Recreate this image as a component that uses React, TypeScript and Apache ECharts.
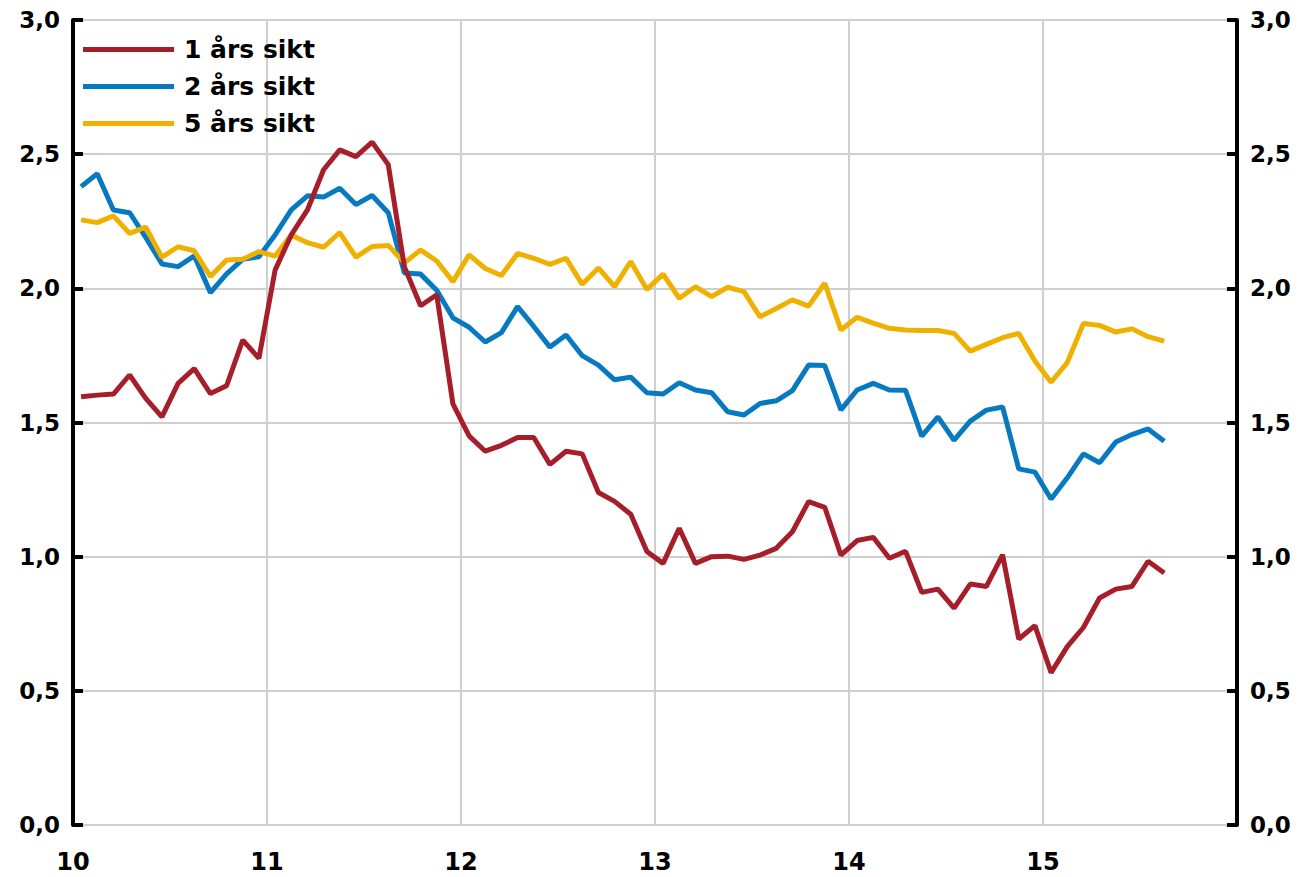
import React, { useEffect, useRef } from "react";
import * as echarts from "echarts";

// Monthly observations, Jan 2010 .. Aug 2015
const startYear = 10;
const seriesNames = ["1 års sikt", "2 års sikt", "5 års sikt"];

const oneYear = [
  1.596, 1.602, 1.606, 1.677, 1.59, 1.521, 1.646, 1.701, 1.608, 1.637, 1.807, 1.739,
  2.068, 2.199, 2.292, 2.442, 2.516, 2.491, 2.545, 2.461, 2.08, 1.935, 1.976, 1.569,
  1.45, 1.393, 1.415, 1.444, 1.444, 1.344, 1.393, 1.383, 1.239, 1.206, 1.158, 1.019,
  0.975, 1.106, 0.975, 1.0, 1.002, 0.99, 1.006, 1.031, 1.093, 1.205, 1.184, 1.006,
  1.06, 1.072, 0.994, 1.02, 0.867, 0.879, 0.808, 0.898, 0.889, 1.007, 0.693, 0.743,
  0.568, 0.665, 0.736, 0.846, 0.879, 0.889, 0.983, 0.939,
];

const twoYear = [
  2.379, 2.427, 2.292, 2.282, 2.19, 2.091, 2.081, 2.121, 1.984, 2.054, 2.108, 2.118,
  2.199, 2.292, 2.345, 2.34, 2.373, 2.312, 2.346, 2.282, 2.057, 2.053, 1.993, 1.89,
  1.855, 1.8, 1.835, 1.932, 1.858, 1.781, 1.826, 1.749, 1.714, 1.659, 1.669, 1.611,
  1.606, 1.648, 1.621, 1.611, 1.54, 1.528, 1.571, 1.581, 1.619, 1.714, 1.712, 1.547,
  1.621, 1.646, 1.621, 1.62, 1.449, 1.521, 1.434, 1.505, 1.546, 1.558, 1.327, 1.315,
  1.215, 1.294, 1.383, 1.35, 1.427, 1.455, 1.476, 1.43,
];

const fiveYear = [
  2.255, 2.245, 2.27, 2.205, 2.228, 2.116, 2.155, 2.14, 2.044, 2.106, 2.108, 2.137,
  2.12, 2.199, 2.17, 2.153, 2.208, 2.116, 2.156, 2.16, 2.095, 2.143, 2.102, 2.025,
  2.125, 2.074, 2.048, 2.13, 2.112, 2.089, 2.112, 2.015, 2.076, 2.006, 2.1, 1.996,
  2.053, 1.963, 2.006, 1.969, 2.004, 1.988, 1.894, 1.925, 1.957, 1.934, 2.019, 1.845,
  1.892, 1.87, 1.851, 1.845, 1.843, 1.843, 1.832, 1.766, 1.791, 1.816, 1.832, 1.729,
  1.65, 1.723, 1.869, 1.862, 1.837, 1.849, 1.82, 1.803,
];

const xTicks = [10, 11, 12, 13, 14, 15];
const colors = ["#A61E2A", "#0679C0", "#EFB000"];

const FONT = "'DejaVu Sans', 'Open Sans', sans-serif";

const toPoints = (vals: number[]) =>
  vals.map((v, i) => [startYear + (i + 0.5) / 12, v]);

export default function App() {
  const ref = useRef<HTMLDivElement>(null);
  useEffect(() => {
    if (!ref.current) return;
    const chart = echarts.init(ref.current, undefined, { renderer: "svg" });
    const yAxisCommon = {
      type: "value",
      min: 0,
      max: 3,
      interval: 0.5,
      axisLine: { show: true, lineStyle: { color: "#000", width: 4 } },
      axisTick: { show: true, inside: true, length: 10, lineStyle: { color: "#000", width: 4 } },
      axisLabel: {
        color: "#000",
        fontFamily: FONT,
        fontWeight: "bold",
        fontSize: 23,
        margin: 13,
        formatter: (v: number) => v.toFixed(1).replace(".", ","),
      },
    };
    chart.setOption({
      animation: false,
      backgroundColor: "#fff",
      grid: { left: 73, right: 62, top: 20, bottom: 52, containLabel: false },
      legend: {
        orient: "vertical",
        left: 78,
        top: 32,
        icon: "rect",
        itemWidth: 91,
        itemHeight: 5,
        itemGap: 12,
        data: seriesNames,
        textStyle: {
          color: "#000",
          fontFamily: FONT,
          fontWeight: "bold",
          fontSize: 25,
          padding: [0, 0, 0, 5],
        },
      },
      xAxis: {
        type: "value",
        min: 10,
        max: 16,
        interval: 1,
        axisLine: { show: false },
        axisTick: { show: false },
        splitLine: { show: true, lineStyle: { color: "#cfcfcf", width: 2 } },
        axisLabel: {
          color: "#000",
          fontFamily: FONT,
          fontWeight: "bold",
          fontSize: 24,
          margin: 25,
          formatter: (v: number) => (xTicks.includes(v) ? String(v) : ""),
        },
      },
      yAxis: [
        {
          ...yAxisCommon,
          position: "left",
          splitLine: { show: true, lineStyle: { color: "#cfcfcf", width: 2 } },
        },
        {
          ...yAxisCommon,
          position: "right",
          splitLine: { show: false },
        },
      ],
      series: [oneYear, twoYear, fiveYear].map((vals, k) => ({
        name: seriesNames[k],
        type: "line",
        data: toPoints(vals),
        yAxisIndex: 0,
        symbol: "none",
        lineStyle: { color: colors[k], width: 5 },
        itemStyle: { color: colors[k] },
        z: k === 0 ? 5 : 3,
      })),
    });
    return () => chart.dispose();
  }, []);
  return (
    <div
      ref={ref}
      style={{ position: "fixed", left: 0, top: 0, width: 1299, height: 877, background: "#fff" }}
    />
  );
}
